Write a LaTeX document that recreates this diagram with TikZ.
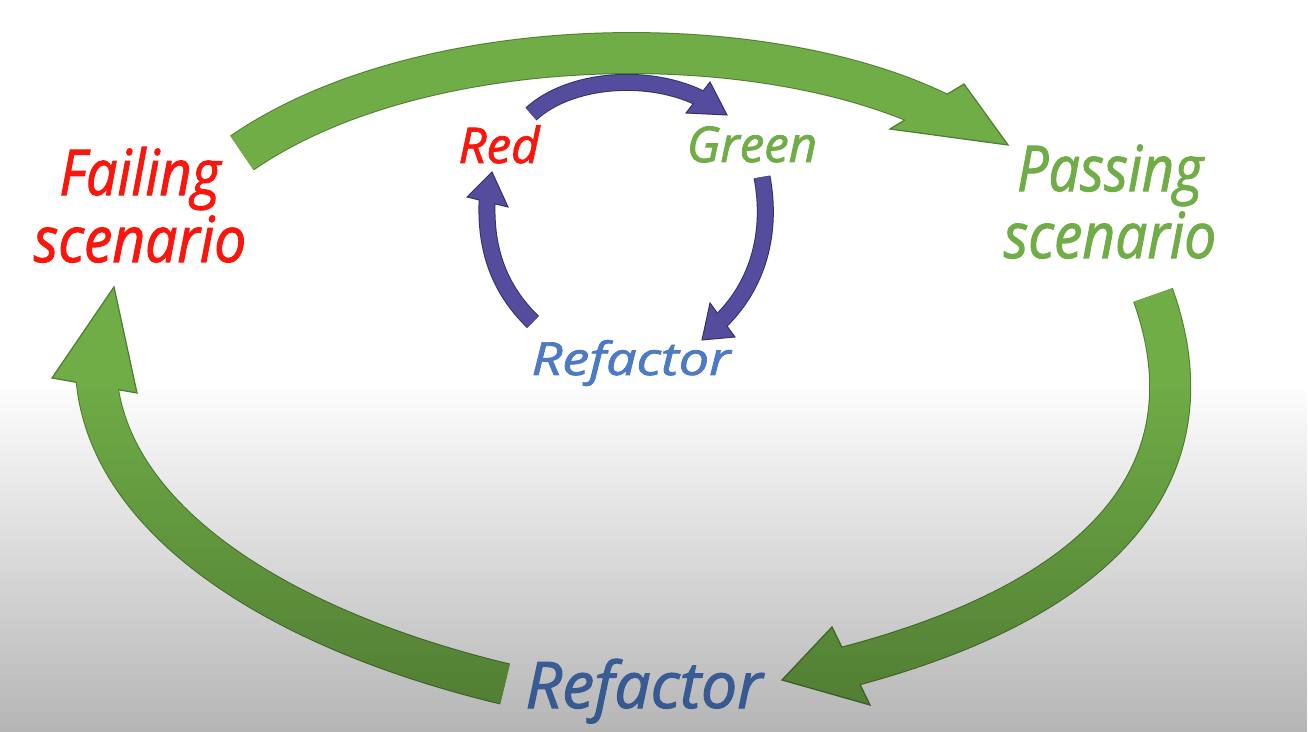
\documentclass[tikz,border=0pt]{standalone}
\usepackage{fontspec}
\newfontfamily\cf{Open Sans}[FakeBold=1.6]
\usetikzlibrary{fadings}
\definecolor{gfill}{RGB}{112,173,71}
\definecolor{gline}{RGB}{80,126,50}
\definecolor{pfill}{RGB}{84,77,158}
\definecolor{pline}{RGB}{52,48,110}
\definecolor{tred}{RGB}{250,22,12}
\definecolor{tgreen}{RGB}{112,173,71}
\definecolor{tblue}{RGB}{76,122,196}
\tikzfading[name=bgfade, top color=transparent!99, bottom color=transparent!71]
\begin{document}
\begin{tikzpicture}[x=0.02cm,y=-0.02cm,
  bigedge/.style={draw=gline, line width=0.84cm, line cap=butt, shorten >=-0.3cm},
  bigbody/.style={draw=gfill, line width=0.8cm, line cap=butt, shorten >=-0.3cm},
  bighead/.style={fill=gfill, draw=gline, line width=0.025cm, line join=miter},
  smalledge/.style={draw=pline, line width=0.34cm, line cap=butt, shorten >=-0.12cm},
  smallbody/.style={draw=pfill, line width=0.3cm, line cap=butt, shorten >=-0.12cm},
  smallhead/.style={fill=pfill, draw=pline, line width=0.02cm, line join=miter},
  lbl/.style={inner sep=0pt, anchor=base, align=center},
  bigfont/.style={font=\cf\itshape\fontsize{36}{38.1}\selectfont},
  smallfont/.style={font=\cf\itshape\fontsize{28}{30}\selectfont}]
\useasboundingbox (0,0) rectangle (1308,732);
\fill[white] (0,0) rectangle (1308,732);

% labels (base anchor = baseline of the last line)
\node[lbl, bigfont, text=tred] (fail) at (140,262) {\scalebox{0.88}[1]{Failing}\\\scalebox{0.9}[1]{scenario}};
\node[lbl, bigfont, text=tgreen] (pass) at (1110,258) {\scalebox{0.88}[1]{Passing}\\\scalebox{0.9}[1]{scenario}};
\node[lbl, text=tblue, font=\cf\itshape\fontsize{36.6}{38}\selectfont] (refbig) at (644,708) {Refactor};
\node[lbl, smallfont, text=tred] (red) at (499,163) {Red};
\node[lbl, smallfont, text=tgreen] (green) at (752,162) {Green};
\node[lbl, text=tblue, font=\cf\itshape\fontsize{26}{28}\selectfont] (refsmall) at (631,375) {\scalebox{1.18}[1]{Refactor}};

% big arrow: Failing -> Passing
\coordinate (t0) at (242,153);
\coordinate (t1) at (927,107);
\draw[bigedge] (t0) .. controls (420,30) and (760,25) .. (t1);
\filldraw[bighead] (964,84) -- (1008,145) -- (890,129) -- cycle;
\draw[bigbody] (t0) .. controls (420,30) and (760,25) .. (t1);

% big arrow: Passing -> Refactor
\coordinate (r0) at (1153,295);
\coordinate (r1) at (851,666);
\draw[bigedge] (r0) .. controls (1205,440) and (1150,590) .. (r1);
\filldraw[bighead] (832,627) -- (782,680) -- (870,705) -- cycle;
\draw[bigbody] (r0) .. controls (1205,440) and (1150,590) .. (r1);

% big arrow: Refactor -> Failing
\coordinate (l0) at (505,684);
\coordinate (l1) at (97,388);
\draw[bigedge] (l0) .. controls (280,630) and (105,520) .. (l1);
\filldraw[bighead] (52,378) -- (114,287) -- (137,393) -- cycle;
\draw[bigbody] (l0) .. controls (280,630) and (105,520) .. (l1);

% small arrow: Red -> Green
\coordinate (s0) at (531,114);
\coordinate (s1) at (698,97);
\draw[smalledge] (s0) .. controls (570,78) and (650,72) .. (s1);
\filldraw[smallhead] (710,82) -- (727,115) -- (686,113) -- cycle;
\draw[smallbody] (s0) .. controls (570,78) and (650,72) .. (s1);

% small arrow: Green -> Refactor
\coordinate (g0) at (762,177);
\coordinate (g1) at (722,320);
\draw[smalledge] (g0) .. controls (772,230) and (760,285) .. (g1);
\filldraw[smallhead] (710,303) -- (702,340) -- (735,337) -- cycle;
\draw[smallbody] (g0) .. controls (772,230) and (760,285) .. (g1);

% small arrow: Refactor -> Red
\coordinate (k0) at (533,322);
\coordinate (k1) at (487,202);
\draw[smalledge] (k0) .. controls (500,290) and (484,250) .. (k1);
\filldraw[smallhead] (467,197) -- (492,172) -- (508,207) -- cycle;
\draw[smallbody] (k0) .. controls (500,290) and (484,250) .. (k1);

% background shading towards the bottom
\fill[black, path fading=bgfade] (0,390) rectangle (1308,732);
\end{tikzpicture}
\end{document}
